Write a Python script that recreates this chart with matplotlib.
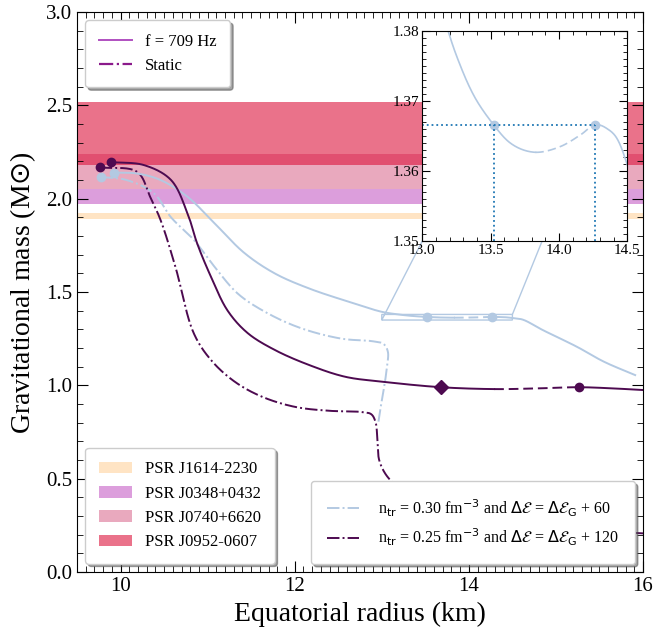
import numpy as np
import matplotlib.pyplot as plt
from matplotlib.patches import Patch
from matplotlib.lines import Line2D
from matplotlib.ticker import MultipleLocator

plt.rcParams['font.family'] = 'serif'
plt.rcParams['font.serif'] = ['Liberation Serif']
plt.rcParams['mathtext.fontset'] = 'dejavusans'

# pulsar mass bands (lower, upper) in Msun
psr_names = ["PSR J1614-2230", "PSR J0348+0432", "PSR J0740+6620", "PSR J0952-0607"]
psr_low = [1.892, 1.97, 2.05, 2.18]
psr_high = [1.924, 2.05, 2.24, 2.52]

# n_tr = 0.30, f = 709 Hz (rotating)
r_rot30 = [9.93, 10.19, 10.46, 10.77, 11.08, 11.42, 11.77, 12.16, 12.62, 13.0, 13.19, 13.28,
           13.38, 13.523, 13.645, 13.816, 14.01, 14.16, 14.263, 14.35, 14.43, 14.5, 14.62,
           14.85, 15.24, 15.55, 15.91]
m_rot30 = [2.14, 2.135, 2.10, 2.01, 1.868, 1.71, 1.60, 1.52, 1.448, 1.394, 1.38, 1.375,
           1.3707, 1.3666, 1.364, 1.3627, 1.3635, 1.3652, 1.3666, 1.3661, 1.3645, 1.3609, 1.352,
           1.296, 1.207, 1.127, 1.055]
dash30 = (13.83, 14.263)      # unstable branch drawn dashed
twin30_r = [13.523, 14.263]
twin30_m = [1.3666, 1.3666]

# n_tr = 0.25, f = 709 Hz (rotating)
r_rot25 = [9.89, 10.27, 10.58, 10.77, 10.88, 11.04, 11.23, 11.46, 11.77, 12.16, 12.58, 13.0, 13.68,
           14.31, 14.8, 15.26, 15.6, 16.0]
m_rot25 = [2.196, 2.18, 2.10, 1.92, 1.76, 1.58, 1.40, 1.28, 1.19, 1.11, 1.046, 1.02, 0.99,
           0.98, 0.984, 0.99, 0.985, 0.975]
dash25 = (14.31, 15.26)
twin25_r = [15.26]
twin25_m = [0.99]
diam25_r = [13.68]
diam25_m = [0.99]

# static sequences
r_st30 = [9.77, 10.07, 10.38, 10.58, 10.84, 11.08, 11.35, 11.69, 12.08, 12.54, 12.9, 13.02, 13.07,
          13.06, 13.03, 13.0, 12.96]
m_st30 = [2.117, 2.10, 2.03, 1.90, 1.78, 1.635, 1.49, 1.386, 1.305, 1.25, 1.236, 1.222, 1.18,
          1.10, 1.00, 0.92, 0.80]
r_st25 = [9.76, 10.19, 10.34, 10.46, 10.63, 10.84, 11.04, 11.31, 11.62, 12.0, 12.39, 12.77, 12.88,
          12.93, 12.95, 12.97, 13.05, 13.2, 13.38, 13.6, 14.0, 15.0, 16.0]
m_st25 = [2.168, 2.144, 2.01, 1.885, 1.635, 1.28, 1.135, 1.02, 0.94, 0.885, 0.864, 0.857, 0.845,
          0.80, 0.70, 0.60, 0.52, 0.448, 0.39, 0.33, 0.28, 0.235, 0.207]

blue = "#b3c9e2"
dark = "#4d0a50"
band_colors = ["#ffe4c4", "#dc9edc", "palevioletred", "crimson"]
band_alpha = [1.0, 1.0, 0.6, 0.6]


def smooth(r, m, k=30):
    # centripetal Catmull-Rom in screen-like units
    sx, sy = 86.5, 186.7
    P = np.column_stack([np.asarray(r, float) * sx, np.asarray(m, float) * sy])
    P = np.vstack([2 * P[0] - P[1], P, 2 * P[-1] - P[-2]])
    out = []
    for i in range(1, len(P) - 2):
        p0, p1, p2, p3 = P[i - 1], P[i], P[i + 1], P[i + 2]
        t0 = 0.0
        t1 = t0 + np.linalg.norm(p1 - p0) ** 0.5 + 1e-9
        t2 = t1 + np.linalg.norm(p2 - p1) ** 0.5 + 1e-9
        t3 = t2 + np.linalg.norm(p3 - p2) ** 0.5 + 1e-9
        t = np.linspace(t1, t2, k, endpoint=(i == len(P) - 3))[:, None]
        a1 = (t1 - t) / (t1 - t0) * p0 + (t - t0) / (t1 - t0) * p1
        a2 = (t2 - t) / (t2 - t1) * p1 + (t - t1) / (t2 - t1) * p2
        a3 = (t3 - t) / (t3 - t2) * p2 + (t - t2) / (t3 - t2) * p3
        b1 = (t2 - t) / (t2 - t0) * a1 + (t - t0) / (t2 - t0) * a2
        b2 = (t3 - t) / (t3 - t1) * a2 + (t - t1) / (t3 - t1) * a3
        c = (t2 - t) / (t2 - t1) * b1 + (t - t1) / (t2 - t1) * b2
        out.append(c)
    out = np.vstack(out)
    return out[:, 0] / sx, out[:, 1] / sy


def plot_split(ax, r, m, dash, color, lw):
    x, y = smooth(r, m)
    inside = (x >= dash[0]) & (x <= dash[1])
    # solid parts
    ys = np.where(inside, np.nan, y)
    i0 = np.argmax(inside)
    i1 = len(x) - np.argmax(inside[::-1]) - 1
    ys[i0 - 1] = y[i0 - 1]
    ax.plot(x, ys, color=color, ls="-", lw=lw)
    ax.plot(x[i0 - 1:i1 + 2], y[i0 - 1:i1 + 2], color=color, ls=(0, (5, 2.5)), lw=lw)


def draw_curves(ax, lw=1.4):
    x, y = smooth(r_st30, m_st30)
    ax.plot(x, y, color=blue, ls="-.", lw=lw)
    x, y = smooth(r_st25, m_st25)
    ax.plot(x, y, color=dark, ls="-.", lw=lw)
    plot_split(ax, r_rot30, m_rot30, dash30, blue, lw)
    plot_split(ax, r_rot25, m_rot25, dash25, dark, lw)


fig = plt.figure(figsize=(6.56, 6.35), dpi=100)
ax = fig.add_axes([0.1174, 0.0992, 0.8628, 0.8818])

for lo, hi, c, a in zip(psr_low, psr_high, band_colors, band_alpha):
    ax.axhspan(lo, hi, color=c, alpha=a, lw=0)

draw_curves(ax)
ax.plot([r_st30[0], r_rot30[0]], [m_st30[0], m_rot30[0]], "o", color=blue, ms=6)
ax.plot([r_st25[0], r_rot25[0]], [m_st25[0], m_rot25[0]], "o", color=dark, ms=6)
ax.plot(twin30_r, twin30_m, "o", color=blue, ms=6)
ax.plot(twin25_r, twin25_m, "o", color=dark, ms=6)
ax.plot(diam25_r, diam25_m, "D", color=dark, ms=7)

ax.set_xlim(9.5, 16)
ax.set_ylim(0, 3)
ax.xaxis.set_major_locator(MultipleLocator(2))
ax.xaxis.set_minor_locator(MultipleLocator(0.1))
ax.yaxis.set_major_locator(MultipleLocator(0.5))
ax.yaxis.set_minor_locator(MultipleLocator(0.1))
ax.tick_params(which="both", direction="in", top=True, right=True, labelsize=15)
ax.tick_params(which="major", length=8)
ax.tick_params(which="minor", length=4)
ax.set_xlabel("Equatorial radius (km)", fontsize=20)
ax.set_ylabel(r"Gravitational mass (M$\odot$)", fontsize=20, labelpad=6)

# legends
h1 = [Line2D([], [], color="#b050c0", ls="-", lw=1.4),
      Line2D([], [], color="#8b1a8b", ls="-.", lw=1.6)]
leg1 = ax.legend(h1, ["f = 709 Hz", "Static"], loc="upper left", fontsize=12, shadow=True,
                 borderpad=0.8)
ax.add_artist(leg1)
h2 = [Patch(color=c, alpha=a, lw=0) for c, a in zip(band_colors, band_alpha)]
leg2 = ax.legend(h2, psr_names, loc="lower left", fontsize=12, shadow=True, borderpad=0.8)
ax.add_artist(leg2)
h3 = [Line2D([], [], color=blue, ls="-.", lw=1.4), Line2D([], [], color=dark, ls="-.", lw=1.4)]
lab3 = [r"n$_{\rm tr}$ = 0.30 fm$^{-3}$ and $\Delta\mathcal{E}$ = $\Delta\mathcal{E}_{\rm G}$ + 60",
        r"n$_{\rm tr}$ = 0.25 fm$^{-3}$ and $\Delta\mathcal{E}$ = $\Delta\mathcal{E}_{\rm G}$ + 120"]
ax.legend(h3, lab3, loc="lower right", fontsize=11.5, shadow=True, borderpad=1.0,
          handletextpad=1.2)

# inset
axins = ax.inset_axes([0.61, 0.591, 0.362, 0.375])
draw_curves(axins, lw=1.2)
axins.plot(twin30_r, twin30_m, "o", color=blue, ms=6)
axins.plot([13.0, twin30_r[1]], [twin30_m[1], twin30_m[1]], ":", color="tab:blue", lw=1.3)
for r0 in twin30_r:
    axins.plot([r0, r0], [1.35, twin30_m[0]], ":", color="tab:blue", lw=1.3)
axins.set_xlim(13.0, 14.5)
axins.set_ylim(1.35, 1.38)
axins.xaxis.set_major_locator(MultipleLocator(0.5))
axins.xaxis.set_minor_locator(MultipleLocator(0.1))
axins.yaxis.set_major_locator(MultipleLocator(0.01))
axins.yaxis.set_minor_locator(MultipleLocator(0.001))
axins.tick_params(which="both", direction="in", top=True, right=True, labelsize=11, pad=2)
axins.tick_params(which="major", length=6)
axins.tick_params(which="minor", length=3)
ax.indicate_inset_zoom(axins, edgecolor=blue, alpha=1, lw=1)

fig.savefig("out.png", dpi=100)
